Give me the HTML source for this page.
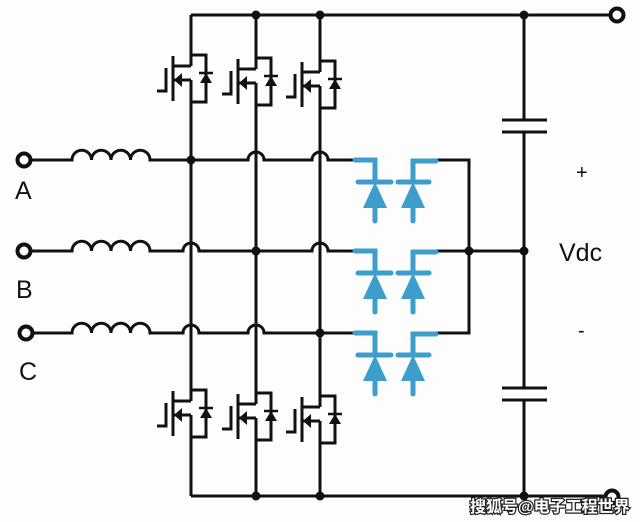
<!DOCTYPE html>
<html><head><meta charset="utf-8"><style>
html,body{margin:0;padding:0;background:#fdfdfd;}
svg{display:block}
</style></head><body>
<svg width="640" height="522" viewBox="0 0 640 522" xmlns="http://www.w3.org/2000/svg">
<defs>
<g id="m" stroke="#111" stroke-width="3" fill="none">
<path d="M0,0 H15 V47 H0"/>
<path d="M-18,11 H0 M-18,25 H0"/>
<path d="M-18,1 V46"/>
<path d="M-25,13 V36 H-34"/>
<polygon points="-17,25 -9,18 -9,32" fill="#111" stroke="none"/>
<polygon points="15,18 9,28 21,28" fill="#111" stroke="none"/>
<path d="M8,18 H22" stroke-width="2.5"/>
</g>
<g id="d" stroke="#3d9dcb" stroke-width="5" fill="none" stroke-linecap="round">
<path d="M355,0 H375 V22"/>
<path d="M358,22 H391"/>
<polygon points="375,22 363,48 387,48" fill="#3d9dcb" stroke="none"/>
<path d="M375,46 V61"/>
<path d="M436,1 H413 V22"/>
<path d="M398,22 H429"/>
<polygon points="413,22 401,48 425,48" fill="#3d9dcb" stroke="none"/>
<path d="M413,46 V61"/>
</g>
</defs>
<g stroke="#111" stroke-width="3" fill="none">
<path d="M191,15 H610"/>
<path d="M191,496 H606"/>
<path d="M191,15 V66 M191,80 V401 M191,415 V496"/>
<path d="M256,15 V69 M256,83 V404 M256,418 V496"/>
<path d="M320,15 V72 M320,86 V407 M320,421 V496"/>
<path d="M524,15 V120 M502,120 H547 M502,132 H547 M524,132 V388 M502,388 H547 M502,400 H547 M524,400 V496"/>
<path d="M30,160 H72 a9.75,9.75 0 0 1 19.5,0 a9.75,9.75 0 0 1 19.5,0 a9.75,9.75 0 0 1 19.5,0 a9.75,9.75 0 0 1 19.5,0 H248 a8,8 0 0 1 16,0 H312 a8,8 0 0 1 16,0 H354"/>
<path d="M30,251 H72 a9.75,9.75 0 0 1 19.5,0 a9.75,9.75 0 0 1 19.5,0 a9.75,9.75 0 0 1 19.5,0 a9.75,9.75 0 0 1 19.5,0 H183 a8,8 0 0 1 16,0 H312 a8,8 0 0 1 16,0 H354"/>
<path d="M32,333 H72 a9.75,9.75 0 0 1 19.5,0 a9.75,9.75 0 0 1 19.5,0 a9.75,9.75 0 0 1 19.5,0 a9.75,9.75 0 0 1 19.5,0 H183 a8,8 0 0 1 16,0 H248 a8,8 0 0 1 16,0 H354"/>
<path d="M436,160 H469 V333 H436 M436,251 H524"/>
</g>
<g stroke="#111" stroke-width="4" fill="none">
<circle cx="617" cy="15" r="6.5"/>
<circle cx="612" cy="497" r="6.5"/>
<circle cx="24" cy="160" r="6.5"/>
<circle cx="24" cy="251" r="6.5"/>
<circle cx="26" cy="333" r="6.5"/>
</g>
<g fill="#111">
<circle cx="256" cy="15" r="4.5"/><circle cx="320" cy="15" r="4.5"/><circle cx="524" cy="15" r="4.5"/>
<circle cx="256" cy="496" r="4.5"/><circle cx="320" cy="496" r="4.5"/><circle cx="524" cy="496" r="4.5"/>
<circle cx="191" cy="160" r="4.5"/><circle cx="256" cy="251" r="4.5"/><circle cx="320" cy="333" r="4.5"/>
<circle cx="469" cy="251" r="4.5"/><circle cx="524" cy="251" r="4.5"/>
</g>
<use href="#m" transform="translate(191,55)"/>
<use href="#m" transform="translate(256,58)"/>
<use href="#m" transform="translate(320,61)"/>
<use href="#m" transform="translate(191,390)"/>
<use href="#m" transform="translate(256,393)"/>
<use href="#m" transform="translate(320,396)"/>
<use href="#d" transform="translate(0,160)"/>
<use href="#d" transform="translate(0,251)"/>
<use href="#d" transform="translate(0,333)"/>
<g font-family="Liberation Sans, sans-serif" fill="#111">
<text x="15" y="199" font-size="25">A</text>
<text x="16" y="298" font-size="25">B</text>
<text x="19" y="380" font-size="25">C</text>
<text x="576" y="179" font-size="20">+</text>
<text x="559" y="261" font-size="25">Vdc</text>
<text x="578" y="337" font-size="20">-</text>
</g>
<text x="470" y="512" font-family="Liberation Sans, 'Noto Sans CJK SC', sans-serif" font-size="16" font-weight="bold" fill="#fff" stroke="#222" stroke-width="2.5" paint-order="stroke">搜狐号@电子工程世界</text>
</svg>
</body></html>
